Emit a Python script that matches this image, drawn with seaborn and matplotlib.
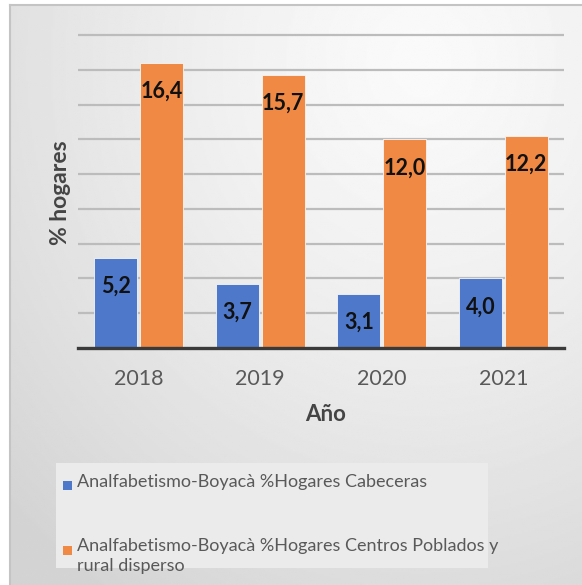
import numpy as np
import pandas as pd
import matplotlib
matplotlib.use("Agg")
import matplotlib.pyplot as plt
from matplotlib.patches import Rectangle
import seaborn as sns

years = ["2018", "2019", "2020", "2021"]
cabeceras = [5.2, 3.7, 3.1, 4.0]
rural = [16.4, 15.7, 12.0, 12.2]
series = ["Analfabetismo-Boyacà %Hogares Cabeceras",
          "Analfabetismo-Boyacà %Hogares Centros Poblados y\nrural disperso"]
colors = ["#4E79CB", "#EF8943"]
y_label = "% hogares"
x_label = "Año"

sns.set_theme(style="white")
plt.rcParams["font.family"] = ["Lato", "DejaVu Sans"]

df = pd.DataFrame({
    "Año": years * 2,
    "valor": cabeceras + rural,
    "serie": [series[0]] * 4 + [series[1]] * 4,
})

W, H = 582, 585
fig = plt.figure(figsize=(W / 100, H / 100), dpi=100, facecolor="white")

# background panel with soft gradient
bg = fig.add_axes([10 / W, 0, 1 - 10 / W, 1 - 5 / H])
yy, xx = np.mgrid[0:1:300j, 0:1:300j]
d = np.sqrt(((xx - 0.72) / 1.0) ** 2 + ((yy - 0.10) / 1.1) ** 2)
shade = 0.98 - 0.15 * np.clip(d, 0, 1) ** 1.3
bg.imshow(shade, cmap="gray", vmin=0, vmax=1, aspect="auto",
          extent=[0, 1, 0, 1], origin="upper")
bg.set_xlim(0, 1); bg.set_ylim(0, 1)
bg.set_xticks([]); bg.set_yticks([])
for s in ["right", "bottom"]:
    bg.spines[s].set_visible(False)
for s in ["top", "left"]:
    bg.spines[s].set_color("#c4c4c4")
    bg.spines[s].set_linewidth(1.5)

# main axes
left, right, base, top_px = 78, 564, 348, 17.6
ax = fig.add_axes([left / W, (H - base) / H, (right - left) / W, (base - top_px) / H])
ax.set_facecolor("none")
sns.barplot(data=df, x="Año", y="valor", hue="serie", palette=colors,
            saturation=1, width=0.756, gap=0.065, ax=ax, legend=False, zorder=3,
            edgecolor="#f6f6f6", linewidth=0.6)
ax.set_ylim(0, 19)
ax.set_yticks(np.arange(2, 19, 2))
ax.set_yticklabels([])
ax.tick_params(axis="y", length=0)
ax.yaxis.grid(True, color="#bcbcbc", linewidth=1.6, zorder=0)
ax.set_axisbelow(True)
for s in ["top", "right", "left"]:
    ax.spines[s].set_visible(False)
ax.spines["bottom"].set_color("#3a3a3a")
ax.spines["bottom"].set_linewidth(2.4)
ax.spines["bottom"].set_zorder(5)
ax.tick_params(axis="x", length=0, pad=15, labelsize=15.5, labelcolor="#595959")

for cont in ax.containers:
    for p in cont:
        v = p.get_height()
        ax.annotate(f"{v:.1f}".replace(".", ","),
                    (p.get_x() + p.get_width() / 2, v),
                    xytext=(0, -20.5), textcoords="offset points",
                    ha="center", va="center", fontsize=15.5,
                    fontweight="bold", color="#111111", zorder=6)

ax.set_ylabel(y_label, fontsize=16.5, fontweight="bold", color="#454545")
ax.yaxis.set_label_coords(-0.015, 0.47)
ax.set_xlabel(x_label, fontsize=16, fontweight="bold", color="#454545")
ax.xaxis.set_label_coords(0.51, -0.17)

# legend (manual)
lx0, lx1, ly0, ly1 = 56, 488, 463, 568
fig.patches.append(Rectangle((lx0 / W, 1 - ly1 / H), (lx1 - lx0) / W, (ly1 - ly0) / H,
                             transform=fig.transFigure, facecolor="#ebebeb",
                             edgecolor="none", zorder=1))
for i, (lab, col) in enumerate(zip(series, colors)):
    cy = [485, 550][i]
    fig.patches.append(Rectangle((63 / W, 1 - (cy + 4.5) / H), 9 / W, 9 / H,
                                 transform=fig.transFigure, facecolor=col,
                                 edgecolor="none", zorder=2))
    fig.text(77 / W, 1 - (cy - 11.5) / H, lab, ha="left", va="top",
             fontsize=13, color="#595959", linespacing=1.25, zorder=3)

fig.savefig("out.png", dpi=100, facecolor="white")
